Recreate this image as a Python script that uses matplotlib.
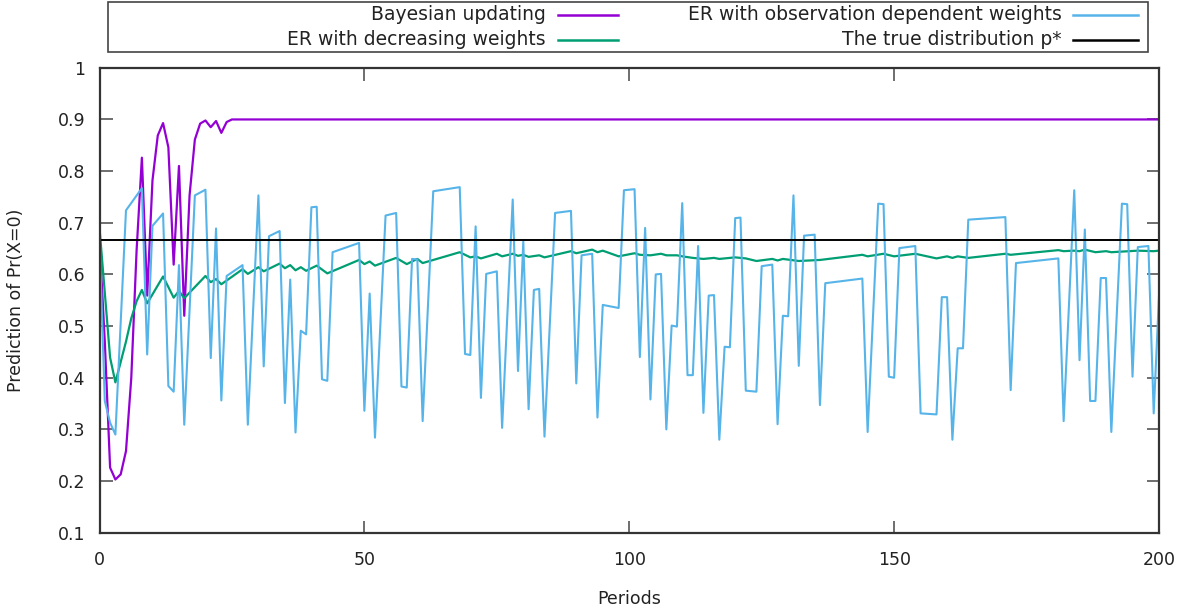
import matplotlib
matplotlib.use('Agg')
import matplotlib.pyplot as plt
from matplotlib.lines import Line2D
from matplotlib.patches import Rectangle
import numpy as np

# Bayesian updating (vertices)
bayes_t = [0, 1, 2, 3, 4, 5, 6, 7, 8, 9, 10, 11, 12, 13, 14, 15, 16, 17, 18, 19,
           20, 21, 22, 23, 24, 25, 27, 200]
bayes_p = [0.667, 0.47, 0.226, 0.203, 0.213, 0.258, 0.40, 0.646, 0.826, 0.559, 0.782, 0.869,
           0.893, 0.846, 0.619, 0.810, 0.520, 0.753, 0.861, 0.892, 0.898, 0.885, 0.897, 0.874,
           0.895, 0.900, 0.900, 0.900]

# ER with decreasing weights
dec_t = [0, 2, 3, 5, 6, 7, 8, 9, 12, 14, 15, 16, 20, 21, 22, 23, 27, 28, 30, 31,
         34, 35, 36, 37, 38, 39, 41, 43, 49, 50, 51, 52, 56, 58, 60, 61, 68, 70, 71, 72,
         75, 76, 78, 79, 80, 81, 83, 84, 89, 90, 93, 94, 95, 98, 101, 102, 104, 106, 107, 109,
         110, 112, 114, 116, 117, 120, 122, 124, 127, 128, 129, 132, 136, 144, 145, 148, 150, 154, 158, 160,
         161, 162, 164, 171, 172, 181, 182, 184, 185, 186, 188, 190, 191, 196, 199, 200]
dec_p = [0.690, 0.439, 0.391, 0.470, 0.515, 0.548, 0.570, 0.544, 0.596, 0.555, 0.568, 0.554, 0.597, 0.585, 0.591, 0.581, 0.610, 0.601, 0.614, 0.606,
         0.621, 0.612, 0.618, 0.608, 0.614, 0.607, 0.617, 0.602, 0.628, 0.620, 0.625, 0.617, 0.632, 0.620, 0.630, 0.622, 0.643, 0.633, 0.635, 0.631,
         0.640, 0.635, 0.640, 0.636, 0.638, 0.634, 0.637, 0.633, 0.645, 0.641, 0.648, 0.643, 0.646, 0.635, 0.641, 0.638, 0.637, 0.640, 0.637, 0.637,
         0.635, 0.632, 0.630, 0.632, 0.630, 0.633, 0.631, 0.626, 0.630, 0.627, 0.630, 0.626, 0.628, 0.638, 0.635, 0.640, 0.635, 0.640, 0.631, 0.635,
         0.632, 0.635, 0.632, 0.640, 0.638, 0.647, 0.645, 0.646, 0.645, 0.648, 0.643, 0.645, 0.643, 0.646, 0.645, 0.646]

# ER with observation dependent weights
obs_t = [0, 1, 2, 3, 5, 8, 9, 10, 12, 13, 14, 15, 16, 18, 20, 21, 22, 23, 24, 27,
         28, 30, 31, 32, 34, 35, 36, 37, 38, 39, 40, 41, 42, 43, 44, 49, 50, 51, 52, 54,
         56, 57, 58, 59, 60, 61, 63, 68, 69, 70, 71, 72, 73, 75, 76, 78, 79, 80, 81, 82,
         83, 84, 86, 89, 90, 91, 93, 94, 95, 98, 99, 101, 102, 103, 104, 105, 106, 107, 108, 109,
         110, 111, 112, 113, 114, 115, 116, 117, 118, 119, 120, 121, 122, 124, 125, 127, 128, 129, 130, 131,
         132, 133, 135, 136, 137, 144, 145, 147, 148, 149, 150, 151, 154, 155, 158, 159, 160, 161, 162, 163,
         164, 171, 172, 173, 181, 182, 184, 185, 186, 187, 188, 189, 190, 191, 193, 194, 195, 196, 198, 199, 200]
obs_p = [0.667, 0.355, 0.313, 0.290, 0.724, 0.767, 0.445, 0.694, 0.718, 0.384, 0.373, 0.618, 0.309, 0.753, 0.764, 0.438, 0.689, 0.356, 0.597, 0.618,
         0.309, 0.753, 0.422, 0.674, 0.684, 0.351, 0.590, 0.294, 0.491, 0.484, 0.730, 0.731, 0.397, 0.394, 0.643, 0.661, 0.336, 0.563, 0.284, 0.714,
         0.719, 0.383, 0.381, 0.630, 0.629, 0.316, 0.761, 0.769, 0.446, 0.444, 0.693, 0.361, 0.601, 0.606, 0.303, 0.745, 0.413, 0.664, 0.339, 0.570,
         0.572, 0.286, 0.719, 0.723, 0.389, 0.637, 0.640, 0.323, 0.541, 0.535, 0.763, 0.765, 0.440, 0.690, 0.358, 0.600, 0.601, 0.300, 0.501, 0.499,
         0.738, 0.405, 0.405, 0.655, 0.332, 0.559, 0.560, 0.280, 0.460, 0.459, 0.709, 0.710, 0.375, 0.373, 0.616, 0.619, 0.310, 0.520, 0.519, 0.753,
         0.423, 0.675, 0.677, 0.347, 0.583, 0.592, 0.295, 0.737, 0.736, 0.402, 0.400, 0.651, 0.655, 0.331, 0.329, 0.556, 0.556, 0.280, 0.457, 0.457,
         0.706, 0.711, 0.376, 0.622, 0.631, 0.316, 0.763, 0.434, 0.687, 0.355, 0.355, 0.593, 0.593, 0.295, 0.737, 0.736, 0.402, 0.653, 0.655, 0.331, 0.559]

true_t = [0, 200]
true_p = [2 / 3, 2 / 3]

labels = ['Bayesian updating', 'ER with decreasing weights',
          'ER with observation dependent weights', 'The true distribution p*']
colors = ['#9400d3', '#009e73', '#56b4e9', '#000000']

plt.rcParams['font.family'] = ['DejaVu Sans']
W, H = 1193, 614
fig = plt.figure(figsize=(W / 100, H / 100), dpi=100)
ax = fig.add_axes([99.5 / W, 1 - 532.7 / H, (1159 - 99.5) / W, (532.7 - 67.8) / H])

ax.plot(bayes_t, bayes_p, color=colors[0], lw=1.6)
ax.plot(dec_t, dec_p, color=colors[1], lw=1.6)
ax.plot(obs_t, obs_p, color=colors[2], lw=1.5)
ax.plot(true_t, true_p, color=colors[3], lw=1.4)

ax.set_xlim(0, 200)
ax.set_ylim(0.1, 1.0)
ax.set_xticks(np.arange(0, 201, 50))
ax.set_yticks(np.arange(0.1, 1.01, 0.1))
ax.set_yticklabels(['0.1', '0.2', '0.3', '0.4', '0.5', '0.6', '0.7', '0.8', '0.9', '1'])
ax.tick_params(direction='in', length=9, width=1.2, color='#555555', labelsize=12.5,
               top=True, right=True, labelcolor='#222222')
ax.tick_params(axis='x', pad=13)
ax.tick_params(axis='y', pad=10)
for s in ax.spines.values():
    s.set_linewidth(1.6)
    s.set_color('#333333')
ax.set_xlabel('Periods', fontsize=12.5, labelpad=15, color='#222222')
ax.set_ylabel('Prediction of Pr(X=0)', fontsize=12.5, labelpad=24, color='#222222')

# gnuplot style key: text right-aligned, sample after it, boxed
fig.add_artist(Rectangle((108 / W, 1 - 52 / H), (1148 - 108) / W, 50 / H,
                         transform=fig.transFigure, fill=False, lw=1.2, ec='#444444'))
key = [(0, 546, 558, 618, 15), (1, 546, 558, 618, 39.5),
       (2, 1062, 1073, 1138, 15), (3, 1062, 1073, 1138, 39.5)]
for i, xt, x0, x1, yc in key:
    fig.text(xt / W, 1 - yc / H, labels[i], ha='right', va='center', fontsize=13.5, color='#222222')
    fig.add_artist(Line2D([x0 / W, x1 / W], [1 - yc / H, 1 - yc / H],
                          transform=fig.transFigure, color=colors[i], lw=1.8))

fig.savefig('out.png', dpi=100)
